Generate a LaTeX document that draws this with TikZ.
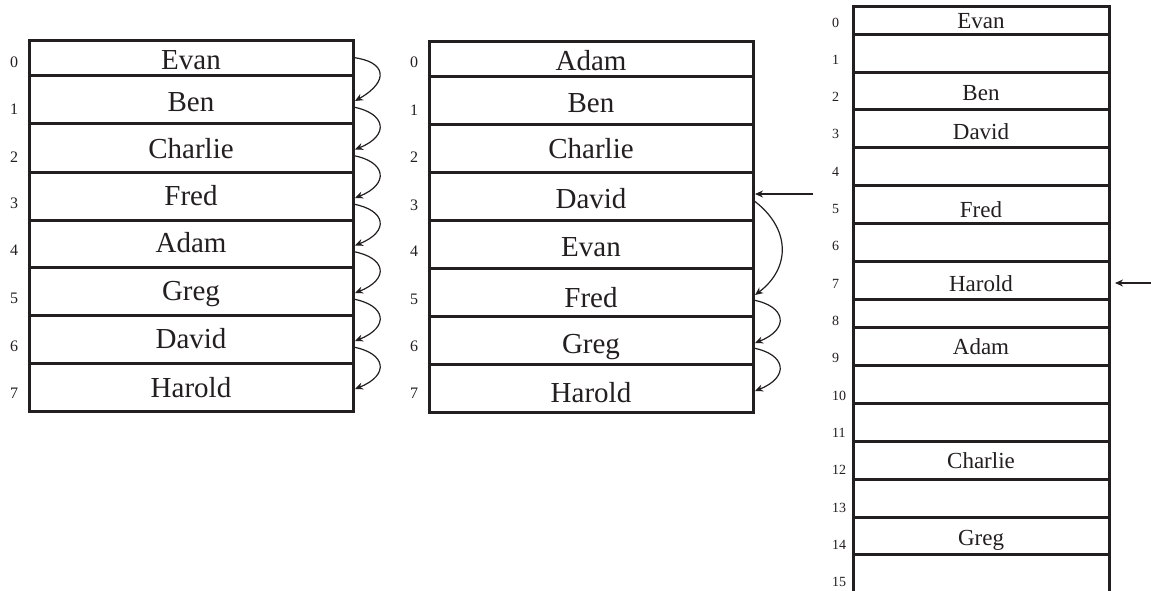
\documentclass[tikz,border=0pt]{standalone}
\usepackage{fontspec}
\setmainfont{Liberation Serif}
\usetikzlibrary{arrows.meta,calc}
\definecolor{ink}{RGB}{35,31,32}
\begin{document}
\begin{tikzpicture}[x=1pt,y=-1pt,
  cell/.style={draw=ink, line width=3.0pt, minimum width=#1, anchor=north west,
    inner sep=0pt, outer sep=0pt},
  bigname/.style={anchor=base, inner sep=0pt, text=ink, font=\fontsize{29}{29}\selectfont},
  smallname/.style={anchor=base, inner sep=0pt, text=ink, font=\fontsize{23}{23}\selectfont},
  bigidx/.style={anchor=base west, inner sep=0pt, text=ink, font=\fontsize{16}{16}\selectfont},
  smallidx/.style={anchor=base west, inner sep=0pt, text=ink, font=\fontsize{14}{14}\selectfont},
  arr/.style={draw=ink, line width=1.2pt, -{Stealth[length=8pt,width=7pt]}}]
\clip (0,0) rectangle (1151,590);
\fill[white] (0,0) rectangle (1151,590);

% ---- left table: unsorted list ----
\foreach \i/\t/\h in {0/40/35,1/75/48,2/123/49,3/172/48,4/220/47,5/267/48,6/315/48,7/363/48}
  \node[cell=324pt, minimum height=\h pt] (a\i) at (29,\t) {};
\foreach \i/\b/\s in {0/69/Evan,1/111/Ben,2/158/Charlie,3/205/Fred,4/252/Adam,5/300/Greg,6/348/David,7/397/Harold}
  \node[bigname] (an\i) at (191,\b) {\s};
\foreach \i/\b in {0/67,1/114,2/162,3/208,4/255,5/303,6/351,7/398}
  \node[bigidx] (ai\i) at (10,\b) {\i};
\draw[arr] (a0.east) .. controls +(33,4) and +(35,-20) .. ($(a1.east)+(2,2)$);
\foreach \i/\j in {1/2,2/3,3/4,4/5,5/6,6/7}
  \draw[arr] ($(a\i.east)+(0,8)$) .. controls +(33,6) and +(35,-14) .. ($(a\j.east)+(2,2)$);

% ---- middle table: sorted list ----
\foreach \i/\t/\h in {0/41/35,1/76/48,2/124/48,3/172/48,4/220/48,5/268/48,6/316/48,7/364/48}
  \node[cell=324pt, minimum height=\h pt] (b\i) at (429,\t) {};
\foreach \i/\b/\s in {0/70/Adam,1/112/Ben,2/158/Charlie,3/208/David,4/256/Evan,5/307/Fred,6/353/Greg,7/402/Harold}
  \node[bigname] (bn\i) at (591,\b) {\s};
\foreach \i/\b in {0/67,1/115,2/162,3/210,4/256,5/304,6/351,7/398}
  \node[bigidx] (bi\i) at (410,\b) {\i};
\coordinate (bsrc) at (813,194);
\draw[arr] (bsrc) -- ($(b3.east)+(2,-2)$);
\draw[arr] ($(b3.east)+(0,4)$) .. controls +(38,28) and +(36,-27) .. ($(b5.east)+(2,3)$);
\foreach \i/\j in {5/6,6/7}
  \draw[arr] ($(b\i.east)+(0,8)$) .. controls +(33,6) and +(35,-14) .. ($(b\j.east)+(2,3)$);

% ---- right table: hash table ----
\foreach \i/\t/\h in {0/6/28,1/34/38,2/72/37,3/109/38,4/147/38,5/185/38,6/223/38,7/261/38,
                      8/299/28,9/327/38,10/365/38,11/403/38,12/441/38,13/479/38,14/517/37,15/554/46}
  \node[cell=256pt, minimum height=\h pt] (c\i) at (853,\t) {};
\foreach \i/\b/\s in {0/28/Evan,2/100/Ben,3/139/David,5/217/Fred,7/291/Harold,9/354/Adam,12/468/Charlie,14/545/Greg}
  \node[smallname] (cn\i) at (981,\b) {\s};
\foreach \i in {0,...,15}
  \node[smallidx] (ci\i) at (832,{27+37.33*\i}) {\i};
\coordinate (csrc) at (1153,283);
\draw[arr] (csrc) -- ($(c7.east)+(6,3)$);
\end{tikzpicture}
\end{document}
